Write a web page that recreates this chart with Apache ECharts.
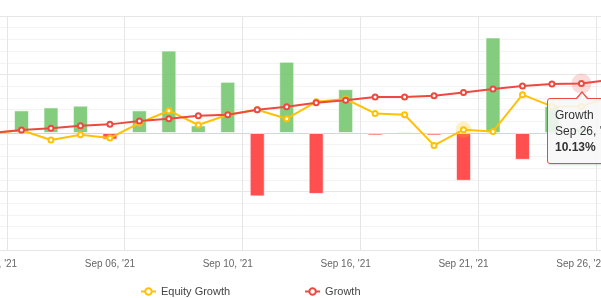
<!DOCTYPE html>
<html>
<head>
<meta charset="utf-8">
<script src="https://cdn.jsdelivr.net/npm/echarts@6/dist/echarts.min.js"></script>
<style>
html,body{margin:0;padding:0;overflow:hidden;background:#fff;width:601px;height:298px;position:relative;}
#chart{position:absolute;left:-23px;top:0;width:649px;height:298px;}
</style>
</head>
<body>
<div id="chart"></div>
<script>
// Categories (trading days)
var dates = ["Sep 01, '21","Sep 02, '21","Sep 03, '21","Sep 05, '21","Sep 06, '21","Sep 07, '21","Sep 08, '21","Sep 09, '21","Sep 10, '21","Sep 13, '21","Sep 14, '21","Sep 15, '21","Sep 16, '21","Sep 17, '21","Sep 19, '21","Sep 20, '21","Sep 21, '21","Sep 22, '21","Sep 23, '21","Sep 24, '21","Sep 26, '21","Sep 27, '21"];
// Daily result bars (%)
var daily = [0, 4.64, 5.25, 5.6, -1.37, 4.64, 16.9, 1.56, 10.5, -13.0, 14.6, -12.5, 9.0, -0.5, 0.3, -0.5, -9.8, 19.6, -5.5, 5.5, 1.0, null];
// Equity Growth (%)
var equityGrowth = [0, 0.55, -1.44, -0.35, -1.03, 2.05, 4.57, 1.64, 3.75, 4.78, 2.93, 6.4, 6.97, 4.02, 3.75, -2.54, 0.68, 0.33, 7.86, 5.46, 5.46, 7.6];
// Growth (%)
var growth = [0, 0.62, 0.95, 1.5, 1.77, 2.46, 2.94, 3.56, 3.75, 4.78, 5.4, 6.2, 6.7, 7.38, 7.38, 7.65, 8.33, 9.03, 9.64, 10.05, 10.13, 10.9];
// Y axis range
var yMin = -24, yMax = 24, yStep = 12;
var legendNames = ['Equity Growth', 'Growth'];
var hoverEquityIndex = 16;
var tipIndex = 20;

var GREEN = 'rgba(110,196,105,0.85)';
var RED = 'rgba(255,60,60,0.9)';
var YELLOW = '#ffc107';
var LINERED = '#ec4a40';
var FONT = 'Liberation Sans, Arial, sans-serif';

var chart = echarts.init(document.getElementById('chart'), null, {renderer: 'canvas'});

var haloEq = equityGrowth.map(function (v, i) { return i === hoverEquityIndex ? v : null; });
var haloGr = growth.map(function (v, i) { return i === tipIndex ? v : null; });

chart.setOption({
  animation: false,
  textStyle: {fontFamily: FONT},
  grid: {left: 0.3, right: 0.4, top: 16, bottom: 48, containLabel: false, outerBoundsMode: 'none'},
  legend: {
    data: legendNames,
    left: 158, top: 281,
    itemWidth: 15, itemHeight: 8, itemGap: 74,
    textStyle: {fontSize: 11, color: '#444', fontFamily: FONT}
  },
  tooltip: {
    trigger: 'item',
    alwaysShowContent: true,
    transitionDuration: 0,
    confine: false,
    backgroundColor: 'rgba(247,247,247,0.88)',
    borderColor: LINERED,
    borderWidth: 1,
    padding: [8, 7],
    textStyle: {fontSize: 12, color: '#333', fontFamily: FONT},
    extraCssText: 'border-radius:3px;box-shadow:1px 1px 2px rgba(0,0,0,0.15);line-height:16px;',
    position: function () { return [570, 98]; },
    formatter: function (p) {
      var arrow = '<div style="position:absolute;left:28px;top:-8px;width:0;height:0;border-left:6px solid transparent;border-right:6px solid transparent;border-bottom:7px solid ' + LINERED + ';"></div>' +
                  '<div style="position:absolute;left:29px;top:-6px;width:0;height:0;border-left:5px solid transparent;border-right:5px solid transparent;border-bottom:6px solid #f7f7f7;"></div>';
      return arrow + p.seriesName + '<br/>' + p.name + '<br/><b>' + p.value.toFixed(2) + '%</b>';
    }
  },
  xAxis: {
    type: 'category',
    data: dates,
    boundaryGap: true,
    axisLine: {lineStyle: {color: '#ccd6eb', width: 1}},
    axisTick: {show: false},
    axisLabel: {
      interval: function (i) { return i % 4 === 0; },
      color: '#666', fontSize: 10, margin: 9, fontFamily: FONT,
      hideOverlap: false
    },
    splitLine: {
      show: true,
      interval: function (i) { return i % 4 === 1; },
      lineStyle: {color: '#e6e6e6', width: 1}
    }
  },
  yAxis: {
    type: 'value',
    min: yMin, max: yMax, interval: yStep,
    axisLabel: {show: false},
    axisLine: {show: false},
    axisTick: {show: false},
    splitLine: {lineStyle: {color: '#e6e6e6', width: 1}},
    minorTick: {show: false, splitNumber: 5},
    minorSplitLine: {show: true, lineStyle: {color: '#f3f3f3', width: 1}}
  },
  series: [
    {
      name: 'Daily',
      type: 'bar',
      data: daily,
      barWidth: 15,
      itemStyle: {
        color: function (p) { return p.value >= 0 ? GREEN : RED; },
        borderColor: 'rgba(255,255,255,0.6)',
        borderWidth: 1
      },
      silent: true,
      tooltip: {show: false}
    },
    {
      name: 'haloEq',
      type: 'scatter',
      data: haloEq,
      symbolSize: 16,
      itemStyle: {color: 'rgba(255,193,7,0.3)'},
      silent: true,
      tooltip: {show: false},
      z: 3
    },
    {
      name: 'Equity Growth',
      type: 'line',
      data: equityGrowth,
      color: YELLOW,
      symbol: 'emptyCircle',
      symbolSize: 5,
      lineStyle: {width: 2, color: YELLOW},
      itemStyle: {color: YELLOW, borderWidth: 1.2},
      z: 4
    },
    {
      name: 'haloGr',
      type: 'scatter',
      data: haloGr,
      symbolSize: 20,
      itemStyle: {color: 'rgba(236,74,64,0.25)'},
      silent: true,
      tooltip: {show: false},
      z: 5
    },
    {
      name: 'Growth',
      type: 'line',
      data: growth,
      color: LINERED,
      symbol: 'emptyCircle',
      symbolSize: 5,
      lineStyle: {width: 2, color: LINERED},
      itemStyle: {color: LINERED, borderWidth: 1.2},
      emphasis: {scale: 1.8},
      z: 6
    }
  ]
});

chart.dispatchAction({type: 'showTip', seriesIndex: 4, dataIndex: tipIndex});
</script>
</body>
</html>
